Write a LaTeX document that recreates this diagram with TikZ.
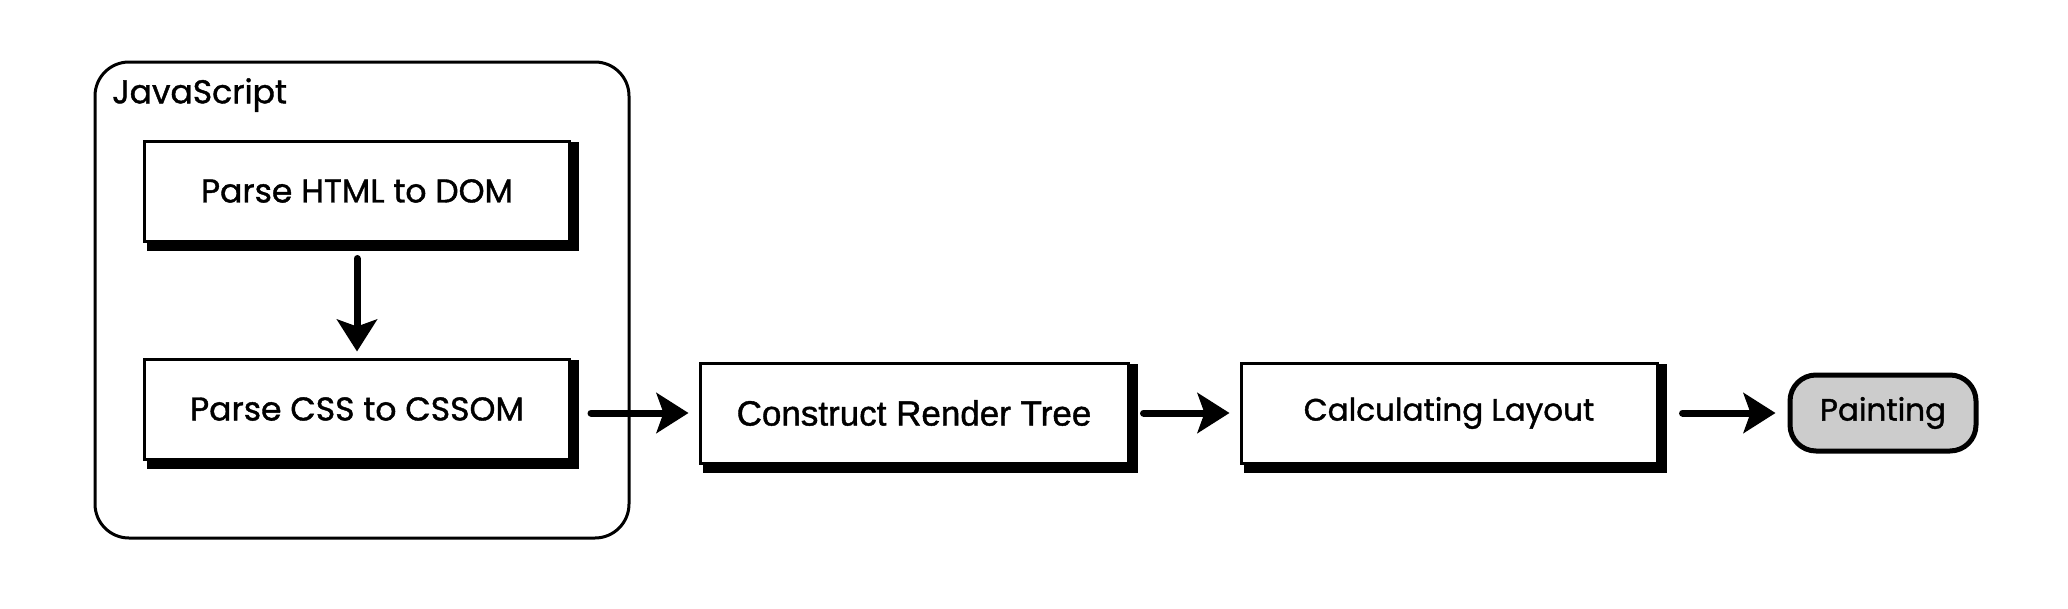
\documentclass[tikz,border=0pt]{standalone}
\usepackage{fontspec}
\setmainfont{Poppins}
\newfontfamily\medfont[FakeBold=1.2]{Poppins}
\newfontfamily\arialfont[FakeBold=1.2]{Liberation Sans}
\usetikzlibrary{arrows.meta}
\tikzset{
  stepbox/.style={draw, line width=3pt, minimum width=425pt, minimum height=100pt, inner sep=0pt, font=\medfont\fontsize{33}{38}\selectfont},
  shadowline/.style={line width=8pt, line cap=rect},
  flow/.style={line width=7pt, line cap=round, -{Stealth[length=32pt,width=40pt,inset=7pt]}},
  endpill/.style={draw, line width=5pt, fill=black!20, rounded corners=26pt, minimum width=186pt, minimum height=76pt, inner sep=0pt, font=\medfont\fontsize{31}{36}\selectfont}
}
\begin{document}
\begin{tikzpicture}[x=1pt,y=-1pt]
\useasboundingbox (0,0) rectangle (2068,608);
% JavaScript container
\node[draw, line width=3pt, rounded corners=34pt, minimum width=534pt, minimum height=476pt, inner sep=0pt] (js) at (362,300) {};
\node[anchor=north west, inner sep=0pt, font=\medfont\fontsize{33}{38}\selectfont] (jsl) at (112,78) {JavaScript};
% boxes
\node[stepbox] (ph) at (357,191) {Parse HTML to DOM};
\node[stepbox] (pc) at (357,409) {Parse CSS to CSSOM};
\node[stepbox, minimum width=428pt, font=\arialfont\fontsize{35}{40}\selectfont] (cr) at (914,413) {Construct Render Tree};
\node[stepbox, minimum width=416pt, font=\medfont\fontsize{31}{36}\selectfont] (cl) at (1449,413) {Calculating Layout};
\node[endpill] (pa) at (1883,413) {Painting};
% shadows
\foreach \n in {ph,pc,cr,cl}{
  \draw[shadowline] ([xshift=8pt,yshift=-4pt]\n.south west) -- ([xshift=4pt,yshift=-4pt]\n.south east) -- ([xshift=4pt,yshift=-6pt]\n.north east);
}
% connectors
\draw[flow] ([yshift=-16pt]ph.south) -- ([yshift=6pt]pc.north);
\draw[flow] ([xshift=20pt]pc.east |- cr.west) -- ([xshift=-10pt]cr.west);
\draw[flow] ([xshift=14pt]cr.east) -- ([xshift=-10pt]cl.west);
\draw[flow] ([xshift=24pt]cl.east) -- ([xshift=-12pt]pa.west);
\end{tikzpicture}
\end{document}
